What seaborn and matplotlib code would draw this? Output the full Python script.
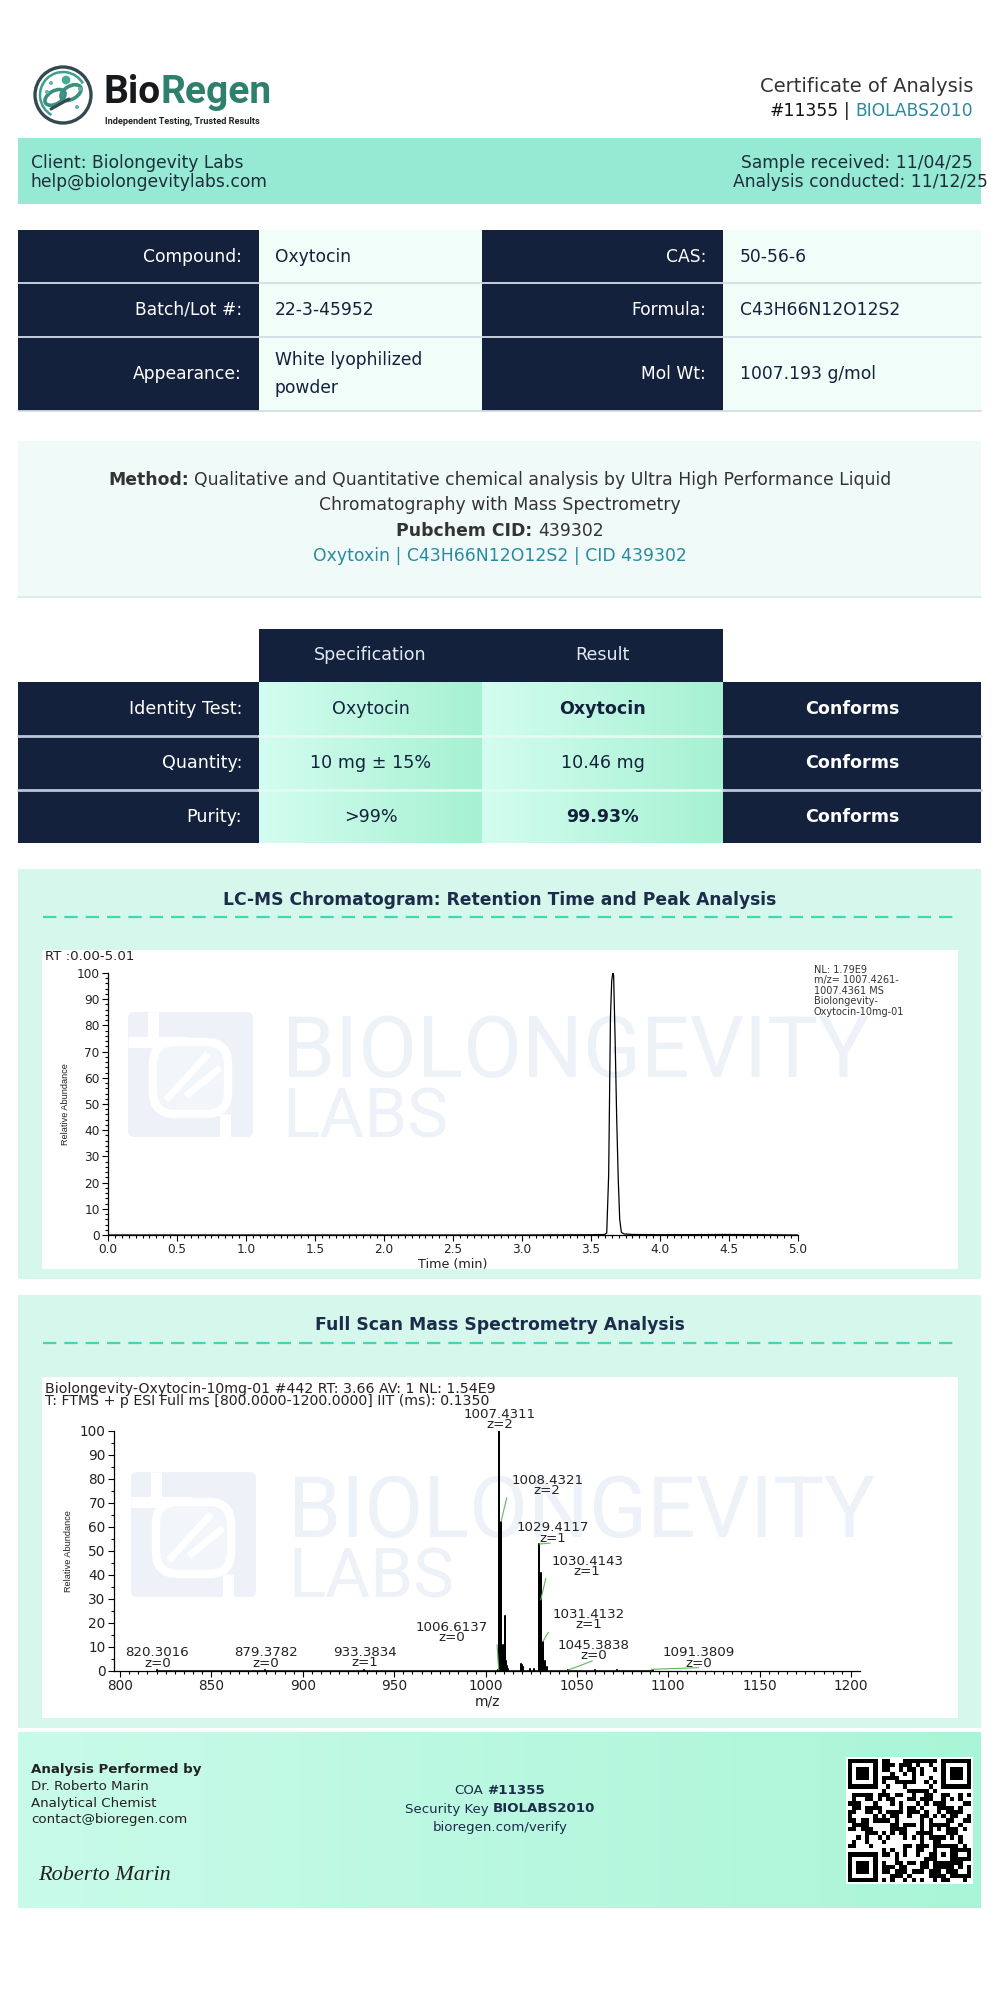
import hashlib
import numpy as np
import pandas as pd
import matplotlib
matplotlib.use("Agg")
import matplotlib.pyplot as plt
import matplotlib.patches as mpatches
from matplotlib import font_manager
from matplotlib.colors import to_rgb
from matplotlib.ticker import MultipleLocator, FormatStrFormatter
import seaborn as sns

sns.set_theme(style="ticks")
plt.rcParams['font.family'] = ['DejaVu Sans']

NAVY = "#14213d"
LIGHT = "#f0fdf8"
MINT = "#96ead4"
PANEL = "#d6f7ec"
TEAL = "#2b8a9e"
WM = "#edf1f8"
BODY = 12.3

installed = {f.name for f in font_manager.fontManager.ttflist}
LOGO = 'Roboto' if 'Roboto' in installed else 'DejaVu Sans'

# ---- document text
client_lines = ["Client: Biolongevity Labs", "help@biolongevitylabs.com"]
date_lines = ["Sample received: 11/04/25", "Analysis conducted: 11/12/25"]

info_labels_left = ["Compound:", "Batch/Lot #:", "Appearance:"]
info_values_left = ["Oxytocin", "22-3-45952", "White lyophilized\npowder"]
info_labels_right = ["CAS:", "Formula:", "Mol Wt:"]
info_values_right = ["50-56-6", "C43H66N12O12S2", "1007.193 g/mol"]

test_names = ["Identity Test:", "Quantity:", "Purity:"]
test_specs = ["Oxytocin", "10 mg ± 15%", ">99%"]
test_results = ["Oxytocin", "10.46 mg", "99.93%"]
result_bold = [True, False, True]
test_status = ["Conforms", "Conforms", "Conforms"]

# ---- LC-MS chromatogram
rt_min = [0.0, 1.0, 2.0, 3.0, 3.5, 3.60, 3.614, 3.628, 3.641, 3.650, 3.658, 3.664,
          3.675, 3.686, 3.697, 3.708, 3.72, 3.74, 3.80, 4.0, 4.5, 5.0]
rt_abund = [0.0, 0.0, 0.0, 0.0, 0.1, 0.2, 0.8, 23, 83, 97, 100, 99,
            74, 45, 22, 6, 1.0, 0.4, 0.2, 0.1, 0.2, 0.0]

# ---- full scan mass spectrum sticks
ms_mz = [820.30, 879.38, 933.38, 1006.61, 1007.43, 1007.93, 1008.43, 1008.93, 1009.43,
         1009.93, 1010.43, 1010.93, 1011.43, 1011.93, 1012.43, 1019.6, 1020.1, 1020.6,
         1024.5, 1026.4, 1029.41, 1029.91, 1030.41, 1030.91, 1031.41, 1031.91, 1032.41,
         1033.4, 1045.38, 1060.0, 1072.0, 1091.38]
ms_abund = [0.4, 0.4, 0.6, 0.6, 100, 12, 62, 10, 11,
            6, 23, 4, 3, 2, 1, 3, 2.5, 1.5,
            0.8, 1.0, 53, 10, 41, 6, 12, 3, 4,
            1.5, 0.6, 0.3, 0.3, 0.3]

peak_mz_text = ["1007.4311", "1008.4321", "1029.4117", "1030.4143", "1031.4132",
                "1045.3838", "1091.3809", "1006.6137", "820.3016", "879.3782", "933.3834"]
peak_z_text = ["z=2", "z=2", "z=1", "z=1", "z=1", "z=0", "z=0", "z=0", "z=0", "z=0", "z=1"]
peak_label_x = [1007.7, 1033.7, 1037.0, 1055.6, 1056.4, 1059.2, 1116.6, 981.5, 820.4, 879.9, 933.9]
peak_label_y = [107.0, 79.2, 59.6, 45.5, 23.6, 10.5, 7.5, 18.2, 7.5, 7.5, 7.8]
peak_z_y = [102.5, 75.0, 55.0, 41.4, 19.2, 6.3, 3.2, 14.0, 3.2, 3.2, 3.5]

leader_x0 = [1008.5, 1029.4, 1030.2, 1031.3, 1045.2, 1090.7, 1007.2]
leader_y0 = [62.2, 52.9, 29.6, 12.2, 0.4, 0.7, 0.4]
leader_x1 = [1011.6, 1035.4, 1033.0, 1034.4, 1058.5, 1116.6, 1006.3]
leader_y1 = [72.2, 53.3, 38.6, 16.1, 4.2, 1.4, 11.0]

fig = plt.figure(figsize=(10, 20), dpi=100)
bg = fig.add_axes([0, 0, 1, 1])
bg.set_xlim(0, 1000)
bg.set_ylim(2000, 0)
bg.axis("off")
R = fig.canvas.get_renderer()


def rect(x0, y0, x1, y1, color, z=1, **kw):
    bg.add_patch(mpatches.Rectangle((x0, y0), x1 - x0, y1 - y0, facecolor=color,
                                    edgecolor='none', zorder=z, **kw))


def gradient(x0, y0, x1, y1, c_left, c_right, z=1):
    a = np.array(to_rgb(c_left))
    b = np.array(to_rgb(c_right))
    t = np.linspace(0, 1, 256)[None, :, None]
    bg.imshow(a + (b - a) * t, extent=(x0, x1, y1, y0), aspect='auto',
              interpolation='bilinear', zorder=z)


def text_w(s, **kw):
    t = bg.text(0, 0, s, **kw)
    w = t.get_window_extent(R).width
    t.remove()
    return w


def rich(x, y, parts, ha="left", size=12):
    kws, ws = [], []
    for s, wt, c in parts:
        kw = dict(fontsize=size, fontweight=wt, color=c)
        kws.append(kw)
        ws.append(text_w(s, **kw))
    sp = text_w("a a", fontsize=size) - text_w("aa", fontsize=size)
    total = sum(ws) + sp * (len(parts) - 1)
    x0 = {"left": x, "center": x - total / 2, "right": x - total}[ha]
    for (s, wt, c), kw, w in zip(parts, kws, ws):
        bg.text(x0, y, s, ha='left', va='center', zorder=5, **kw)
        x0 += w + sp


def fit_text(s, x0, y_base, width, color, family, z=2):
    size = 60 * width / text_w(s, fontsize=60, family=family)
    bg.text(x0, y_base, s, fontsize=size, family=family, color=color, va='baseline', zorder=z)


def watermark(ix, iy, tx):
    bg.add_patch(mpatches.FancyBboxPatch((ix, iy), 125, 125, boxstyle="round,pad=0,rounding_size=6",
                                         fc="#eef2f8", ec='none', zorder=2))
    white = dict(color="white", lw=8, zorder=2, solid_capstyle='butt')
    bg.plot([ix + 25, ix + 25], [iy, iy + 30], **white)
    bg.plot([ix, ix + 60], [iy + 30, iy + 30], **white)
    bg.add_patch(mpatches.FancyBboxPatch((ix + 25, iy + 30), 75, 72,
                                         boxstyle="round,pad=0,rounding_size=22",
                                         fc="#f2f5fa", ec="white", lw=6, zorder=2))
    bg.plot([ix + 97, ix + 97], [iy + 102, iy + 125], **white)
    for k in range(2):
        bg.plot([ix + 38 + k * 20, ix + 80 + k * 12], [iy + 88 - k * 4, iy + 42 + k * 14],
                color="white", lw=5, zorder=2, solid_capstyle='butt')
    fit_text("BIOLONGEVITY", tx, iy + 65, 588, WM, LOGO)
    fit_text("LABS", tx, iy + 125, 166, WM, LOGO)


# ---- header / logo
cx, cy = 63, 95
bg.add_patch(mpatches.Circle((cx, cy), 28, fill=False, ec="#34494f", lw=2.4, zorder=3))
bg.add_patch(mpatches.Arc((cx, cy), 46, 46, theta1=120, theta2=330, ec="#3d9e8b", lw=1.8, zorder=3))
for dx, ang in [(-8, -30), (8, -30)]:
    bg.add_patch(mpatches.Ellipse((cx + dx, cy + dx * -0.3), 22, 13, angle=ang, fill=False,
                                  ec="#3a8f7f", lw=2.6, zorder=3))
bg.plot([cx - 12, cx + 6], [cy + 14, cy + 4], color="#2f4a50", lw=2.2, zorder=3)
bg.add_patch(mpatches.Circle((cx + 3, cy - 15), 3.6, color="#3fae95", zorder=3))
for px, py in [(cx - 12, cy - 12), (cx - 16, cy - 3), (cx + 14, cy + 12), (cx + 17, cy - 6)]:
    bg.add_patch(mpatches.Circle((px, py), 1.3, color="#5fb7a4", zorder=3))

bio_w = text_w("Bio", fontsize=28, fontweight='bold', family=LOGO)
bg.text(103, 103, "Bio", fontsize=28, fontweight='bold', family=LOGO, color="#161a1d",
        va='baseline', zorder=5)
bg.text(103 + bio_w, 103, "Regen", fontsize=28, fontweight='bold', family=LOGO,
        color="#2f7f6d", va='baseline', zorder=5)
bg.text(105, 121, "Independent Testing, Trusted Results", fontsize=6.6, fontweight='bold',
        family=LOGO, color="#1d2326", va='center', zorder=5)

bg.text(973, 87, "Certificate of Analysis", fontsize=14, color="#333333", ha='right', va='center')
rich(973, 111, [("#11355", 'normal', "#111111"), ("|", 'normal', "#111111"),
                ("BIOLABS2010", 'normal', TEAL)], ha='right', size=12.3)

# client band
rect(18, 138, 981, 204, MINT)
for s, y in zip(client_lines, [163, 182]):
    bg.text(31, y, s, fontsize=BODY, color="#1f2d3d", va='center', zorder=5)
for s, y, x in zip(date_lines, [163, 182], [973, 988]):
    bg.text(x, y, s, fontsize=BODY, color="#1f2d3d", va='center', ha='right', zorder=5)

# info table
info_rows = [230, 283, 337, 411]
for i in range(3):
    y0, y1 = info_rows[i], info_rows[i + 1]
    yc = (y0 + y1) / 2
    rect(18, y0, 259, y1, NAVY)
    rect(259, y0, 482, y1, LIGHT)
    rect(482, y0, 723, y1, NAVY)
    rect(723, y0, 981, y1, LIGHT)
    bg.plot([18, 981], [y1, y1], color="#d3dce5", lw=1.3, zorder=3)
    bg.text(242, yc, info_labels_left[i], ha='right', va='center', color='white', fontsize=BODY, zorder=5)
    bg.text(275, yc, info_values_left[i], ha='left', va='center', color=NAVY, fontsize=BODY,
            linespacing=1.65, zorder=5)
    bg.text(706, yc, info_labels_right[i], ha='right', va='center', color='white', fontsize=BODY, zorder=5)
    bg.text(740, yc, info_values_right[i], ha='left', va='center', color=NAVY, fontsize=BODY, zorder=5)

# method box
rect(18, 441, 981, 597, "#f0faf8")
bg.plot([18, 981], [597, 597], color="#d8ecec", lw=1.3, zorder=3)
rich(500, 480, [("Method:", 'bold', "#333333"),
                ("Qualitative and Quantitative chemical analysis by Ultra High Performance Liquid",
                 'normal', "#333333")], ha='center', size=12.4)
bg.text(500, 505, "Chromatography with Mass Spectrometry", fontsize=12.4, color="#333333",
        ha='center', va='center', zorder=5)
rich(500, 531, [("Pubchem CID:", 'bold', "#333333"), ("439302", 'normal', "#333333")],
     ha='center', size=12.4)
bg.text(500, 556, "Oxytoxin | C43H66N12O12S2 | CID 439302", fontsize=12.4, color=TEAL,
        ha='center', va='center', zorder=5)

# results table
rect(259, 629, 723, 682, NAVY)
bg.text(370.5, 655.5, "Specification", fontsize=12.6, color="#e2e8f0", ha='center', va='center', zorder=5)
bg.text(602.5, 655.5, "Result", fontsize=12.6, color="#e2e8f0", ha='center', va='center', zorder=5)
res_rows = [682, 736, 790, 843]
for i in range(3):
    y0, y1 = res_rows[i], res_rows[i + 1]
    yc = (y0 + y1) / 2
    rect(18, y0, 259, y1, NAVY)
    gradient(259, y0, 482, y1, "#d3fdf0", "#a6f1d2")
    gradient(482, y0, 723, y1, "#d3fdf0", "#a6f1d2")
    rect(723, y0, 981, y1, NAVY)
    if i < 2:
        bg.plot([18, 259], [y1, y1], color="#bcc6d8", lw=2, zorder=3)
        bg.plot([259, 723], [y1, y1], color="#e4faf2", lw=2, zorder=3)
        bg.plot([723, 981], [y1, y1], color="#bcc6d8", lw=2, zorder=3)
    bg.text(242, yc, test_names[i], ha='right', va='center', color='white', fontsize=12.6, zorder=5)
    bg.text(370.5, yc, test_specs[i], ha='center', va='center', color=NAVY, fontsize=12.6, zorder=5)
    bg.text(602.5, yc, test_results[i], ha='center', va='center', color=NAVY, fontsize=12.6,
            fontweight='bold' if result_bold[i] else 'normal', zorder=5)
    bg.text(852, yc, test_status[i], ha='center', va='center', color='white', fontsize=12.6,
            fontweight='bold', zorder=5)

# ---- chromatogram panel
rect(18, 869, 981, 1279, PANEL)
bg.text(500, 900, "LC-MS Chromatogram: Retention Time and Peak Analysis", fontsize=12.3,
        fontweight='bold', color="#1c2c4a", ha='center', va='center', zorder=5)
bg.plot([43, 953], [917, 917], color="#3fd8b3", lw=1.6, ls=(0, (6, 3.6)), zorder=3)
rect(42, 950, 958, 1269, "white", z=1.5)
watermark(128, 1012, 282)
bg.text(45, 956, "RT :0.00-5.01", fontsize=9.6, color="#222222", va='center', zorder=5)
bg.text(814, 965, "NL: 1.79E9\nm/z= 1007.4261-\n1007.4361 MS\nBiolongevity-\nOxytocin-10mg-01",
        fontsize=7, color="#333333", va='top', linespacing=1.05, zorder=5)

ax1 = fig.add_axes([0.108, 1 - 1235 / 2000, 0.690, 262 / 2000])
ax1.set_facecolor('none')
chrom = pd.DataFrame({"Time (min)": rt_min, "Relative Abundance": rt_abund})
sns.lineplot(data=chrom, x="Time (min)", y="Relative Abundance", ax=ax1, color="black",
             lw=0.9, estimator=None)

# ---- mass spectrum panel
rect(18, 1295, 981, 1728, PANEL)
bg.text(500, 1325, "Full Scan Mass Spectrometry Analysis", fontsize=12.4, fontweight='bold',
        color="#1c2c4a", ha='center', va='center', zorder=5)
bg.plot([43, 953], [1343, 1343], color="#3fd8b3", lw=1.6, ls=(0, (6, 3.6)), zorder=3)
rect(42, 1377, 958, 1718, "white", z=1.5)
watermark(131, 1472, 288)
bg.text(45, 1382, "Biolongevity-Oxytocin-10mg-01 #442 RT: 3.66 AV: 1 NL: 1.54E9\n"
        "T: FTMS + p ESI Full ms [800.0000-1200.0000] IIT (ms): 0.1350",
        fontsize=10.2, color="#222222", va='top', linespacing=0.86, zorder=5)

ax2 = fig.add_axes([0.114, 1 - 1671 / 2000, 0.746, 240 / 2000])
ax2.set_facecolor('none')
stick_x, stick_y = [], []
for m, h in zip(ms_mz, ms_abund):
    stick_x += [m, m, m]
    stick_y += [0, h, 0]
spec = pd.DataFrame({"m/z": stick_x, "Relative Abundance": stick_y})
sns.lineplot(data=spec, x="m/z", y="Relative Abundance", ax=ax2, color="black", lw=1.1,
             estimator=None, sort=False)
for x0, y0, x1, y1 in zip(leader_x0, leader_y0, leader_x1, leader_y1):
    ax2.plot([x0, x1], [y0, y1], color="#5fb85f", lw=0.8, clip_on=False)
for s, z, x, y, yz in zip(peak_mz_text, peak_z_text, peak_label_x, peak_label_y, peak_z_y):
    ax2.text(x, y, s, fontsize=9.6, color="#222222", ha='center', va='center', clip_on=False)
    ax2.text(x, yz, z, fontsize=9.6, color="#222222", ha='center', va='center', clip_on=False)

for ax, xlim, xmaj, xmin, ymin, tsize in [(ax1, (0, 5), 0.5, 0.05, 2, 8.7),
                                          (ax2, (796.7, 1204.9), 50, 5, 5, 9.8)]:
    ax.set_xlim(*xlim)
    ax.set_ylim(0, 100)
    ax.xaxis.set_major_locator(MultipleLocator(xmaj))
    ax.xaxis.set_minor_locator(MultipleLocator(xmin))
    ax.yaxis.set_major_locator(MultipleLocator(10))
    ax.yaxis.set_minor_locator(MultipleLocator(ymin))
    ax.tick_params(which='both', direction='out', color='black', width=0.8)
    ax.tick_params(which='major', length=4, labelsize=tsize, labelcolor="#222222", pad=2)
    ax.tick_params(which='minor', length=2)
    sns.despine(ax=ax)
    for sp in ['left', 'bottom']:
        ax.spines[sp].set_color('black')
        ax.spines[sp].set_linewidth(0.9)
    ax.set_ylabel("Relative Abundance", fontsize=6.6, family='Liberation Sans', color="#222222", labelpad=5)
    ax.grid(False)
ax1.xaxis.set_major_formatter(FormatStrFormatter('%.1f'))
ax1.set_xlabel("Time (min)", fontsize=9.2, color="#222222", labelpad=1)
ax2.set_xlabel("m/z", fontsize=10, color="#222222", labelpad=1)

# ---- footer
gradient(18, 1732, 981, 1908, "#c9fbea", "#aaf5d7")
rows_left = [("Analysis Performed by", 'bold', 1770), ("Dr. Roberto Marin", 'normal', 1787),
             ("Analytical Chemist", 'normal', 1803), ("contact@bioregen.com", 'normal', 1820)]
for s, wt, y in rows_left:
    bg.text(31, y, s, fontsize=9.6, fontweight=wt, color="#222222", va='center', zorder=5)
bg.text(38, 1876, "Roberto Marin", fontsize=16, family='Liberation Serif', style='italic',
        color="#222222", va='center', zorder=5)
rich(500, 1791, [("COA", 'normal', "#1c2c4a"), ("#11355", 'bold', "#1c2c4a")], ha='center', size=9.6)
rich(500, 1809, [("Security Key", 'normal', "#1c2c4a"), ("BIOLABS2010", 'bold', "#1c2c4a")],
     ha='center', size=9.6)
bg.text(500, 1827, "bioregen.com/verify", fontsize=9.6, color="#1c2c4a", ha='center', va='center', zorder=5)

# QR-style verification code
n = 29
raw = b""
h = b"bioregen.com/verify?coa=11355&key=BIOLABS2010"
while len(raw) * 8 < n * n:
    h = hashlib.sha256(h).digest()
    raw += h
qr = np.unpackbits(np.frombuffer(raw, dtype=np.uint8))[:n * n].reshape(n, n).astype(float)
for r0, c0 in [(0, 0), (0, n - 7), (n - 7, 0)]:
    qr[max(r0 - 1, 0):r0 + 8, max(c0 - 1, 0):c0 + 8] = 0
    qr[r0:r0 + 7, c0:c0 + 7] = 1
    qr[r0 + 1:r0 + 6, c0 + 1:c0 + 6] = 0
    qr[r0 + 2:r0 + 5, c0 + 2:c0 + 5] = 1
qr[n - 9:n - 4, n - 9:n - 4] = 1
qr[n - 8:n - 5, n - 8:n - 5] = 0
qr[n - 7, n - 7] = 1
rect(846, 1757, 973, 1884, "white", z=2)
bg.imshow(qr, cmap='Greys', vmin=0, vmax=1, extent=(848, 971, 1882, 1759), aspect='auto',
          interpolation='nearest', zorder=3)

bg.set_xlim(0, 1000)
bg.set_ylim(2000, 0)
fig.savefig("out.png", dpi=100, facecolor="white")
